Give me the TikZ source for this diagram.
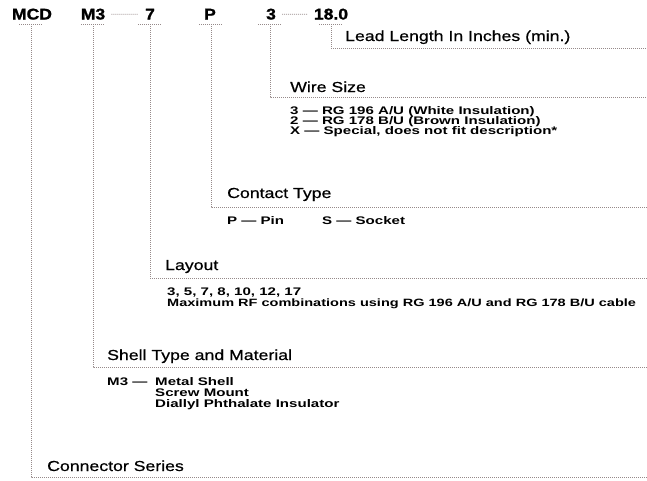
\documentclass[tikz,border=0pt]{standalone}
\usepackage{fontspec}
\newfontfamily\hdrfont[FakeStretch=1.13,FakeBold=1.2]{Liberation Sans Bold}
\newfontfamily\ttlfont[FakeStretch=1.22,FakeBold=0.6]{Liberation Sans}
\newfontfamily\subfont[FakeStretch=1.37]{Liberation Sans}
\definecolor{leadcol}{RGB}{150,138,138}
\begin{document}
\begin{tikzpicture}[x=1pt,y=-1pt,
  code/.style={font=\hdrfont\fontsize{15.5}{16}\selectfont, anchor=base, inner sep=0pt},
  ttl/.style={font=\ttlfont\fontsize{14.5}{15}\selectfont, anchor=base west, inner sep=0pt},
  subtxt/.style={font=\subfont\bfseries\fontsize{11}{10}\selectfont, anchor=base west, inner sep=0pt},
  leadline/.style={draw=leadcol, line width=0.8pt, dash pattern=on 1pt off 1pt}]
\useasboundingbox (0,0) rectangle (647,480);
% header codes
\node[code] (mcd) at (32,19.5) {MCD};
\node[code] (m3) at (93,19.5) {M3};
\node[code] (seven) at (150,19.5) {7};
\node[code] (pp) at (210,19.5) {P};
\node[code] (three) at (271,19.5) {3};
\node[code] (len) at (331,19.5) {18.0};
\draw[leadline] ([xshift=6pt]m3.east) -- ([xshift=-7pt]seven.west);
\draw[leadline] ([xshift=6pt]three.east) -- ([xshift=-6pt]len.west);
% underline junctions
\coordinate (uMCD) at (31,24);
\coordinate (uM3) at (93,24);
\coordinate (uSeven) at (150,24);
\coordinate (uP) at (211,24);
\coordinate (uThree) at (270,24);
\coordinate (uLen) at (331,24);
\foreach \c in {uMCD,uM3,uSeven,uP,uThree,uLen}
  \draw[leadline] ([xshift=-12pt]\c) -- ([xshift=12pt]\c);
% end points at right edge
\coordinate (eLen) at (647,48);
\coordinate (eThree) at (647,97);
\coordinate (eP) at (647,207);
\coordinate (eSeven) at (647,278);
\coordinate (eM3) at (647,367);
\coordinate (eMCD) at (647,477);
\draw[leadline] (uLen) |- (eLen);
\draw[leadline] (uThree) |- (eThree);
\draw[leadline] (uP) |- (eP);
\draw[leadline] (uSeven) |- (eSeven);
\draw[leadline] (uM3) |- (eM3);
\draw[leadline] (uMCD) |- (eMCD);
% titles
\node[ttl] (tLen) at (345,41) {Lead Length In Inches (min.)};
\node[ttl] (tWire) at (290,92) {Wire Size};
\node[ttl] (tContact) at (227,198) {Contact Type};
\node[ttl] (tLayout) at (165,270) {Layout};
\node[ttl] (tShell) at (107,360) {Shell Type and Material};
\node[ttl] (tSeries) at (47,471) {Connector Series};
% descriptions
\node[subtxt] (dWire1) at (290,114) {3 — RG 196 A/U (White Insulation)};
\node[subtxt] (dWire2) at (290,124) {2 — RG 178 B/U (Brown Insulation)};
\node[subtxt] (dWire3) at (290,134) {X — Special, does not fit description*};
\node[subtxt] (dPin) at (227,224) {P — Pin};
\node[subtxt] (dSocket) at (322,224) {S — Socket};
\node[subtxt] (dLayout1) at (167,295) {3, 5, 7, 8, 10, 12, 17};
\node[subtxt, font=\subfont\bfseries\fontsize{10.6}{10}\selectfont] (dLayout2) at (167,306) {Maximum RF combinations using RG 196 A/U and RG 178 B/U cable};
\node[subtxt] (dShell1) at (107,385) {M3 —};
\node[subtxt] (dShell2) at (155,385) {Metal Shell};
\node[subtxt] (dShell3) at (155,396) {Screw Mount};
\node[subtxt] (dShell4) at (155,407) {Diallyl Phthalate Insulator};
\end{tikzpicture}
\end{document}
